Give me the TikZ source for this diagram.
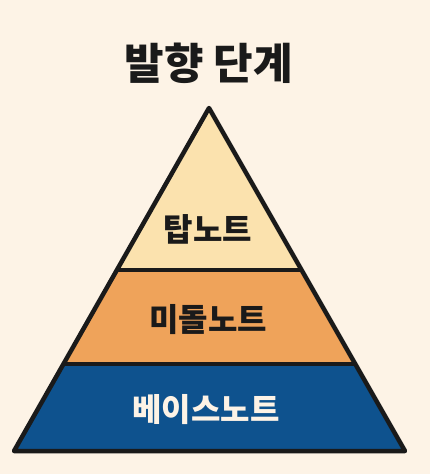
\documentclass[tikz,border=0pt]{standalone}
\usepackage{fontspec}
\usepackage{xcolor}
\usepackage{tikz}
\usetikzlibrary{positioning, calc}
\newfontfamily\kofont{Noto Sans CJK KR}
\definecolor{bgcream}{RGB}{253,243,230}
\definecolor{topyellow}{RGB}{251,226,174}
\definecolor{midorange}{RGB}{239,163,90}
\definecolor{basenavy}{RGB}{14,82,142}
\definecolor{inkdark}{RGB}{26,26,26}

\begin{document}
\begin{tikzpicture}[
    x=1pt, y=-1pt,
    layer/.style={draw=inkdark, line width=4.5pt, line join=round},
    label/.style={font=\kofont\bfseries\fontsize{32}{36}\selectfont, text=inkdark},
    title/.style={font=\kofont\bfseries\fontsize{43}{48}\selectfont, text=inkdark}
]

% --- background and bounds ---
\fill[bgcream] (0,0) rectangle (430,474);
\useasboundingbox (0,0) rectangle (430,474);

% --- pyramid corners ---
\coordinate (apex)  at (209,108);
\coordinate (baseL) at (14,451);
\coordinate (baseR) at (405,451);
\coordinate (midL)  at ($(apex)!0.4723!(baseL)$);
\coordinate (midR)  at ($(apex)!0.4723!(baseR)$);
\coordinate (lowL)  at ($(apex)!0.7464!(baseL)$);
\coordinate (lowR)  at ($(apex)!0.7464!(baseR)$);

% --- layers ---
\fill[topyellow] (apex) -- (midR) -- (midL) -- cycle;
\fill[midorange] (midL) -- (midR) -- (lowR) -- (lowL) -- cycle;
\fill[basenavy]  (lowL) -- (lowR) -- (baseR) -- (baseL) -- cycle;
\draw[layer] (midL) -- (midR);
\draw[layer] (lowL) -- (lowR);
\draw[layer] (apex) -- (baseR) -- (baseL) -- cycle;

% --- texts ---
\node[title] (heading) at (209,63) {발향 단계};
\node[label] (topnote) at (208,229) {탑노트};
\node[label] (midnote) at (208,320) {미돌노트};
\node[label, text=bgcream] (basenote) at (206,410) {베이스노트};

\end{tikzpicture}
\end{document}
